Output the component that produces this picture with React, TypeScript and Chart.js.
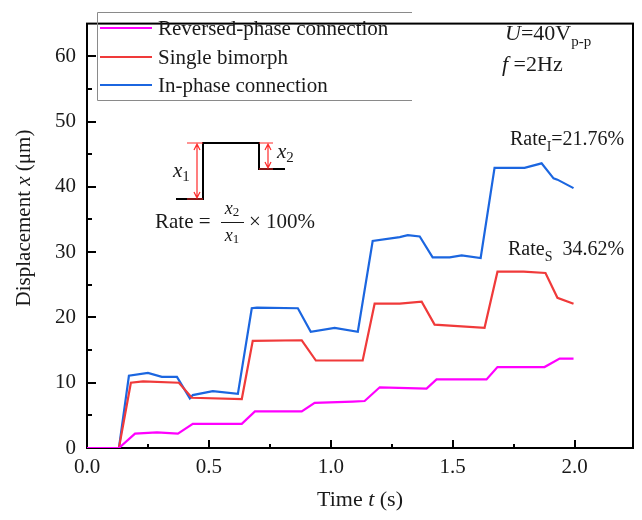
import React, { useEffect, useRef } from "react";
import { Chart, registerables } from "chart.js";

Chart.register(...registerables);

// ---- data ----
const reversedT = [0, 0.131, 0.197, 0.287, 0.373, 0.434, 0.635, 0.689, 0.881, 0.934, 1.09, 1.139, 1.201, 1.393, 1.434, 1.639, 1.684, 1.877, 1.939, 1.996];
const reversedX = [0, 0, 2.2, 2.4, 2.2, 3.7, 3.7, 5.6, 5.6, 6.9, 7.1, 7.2, 9.3, 9.1, 10.5, 10.5, 12.4, 12.4, 13.7, 13.7];

const singleT = [0, 0.131, 0.18, 0.23, 0.377, 0.43, 0.635, 0.68, 0.881, 0.939, 1.131, 1.18, 1.283, 1.373, 1.426, 1.631, 1.684, 1.791, 1.881, 1.93, 1.996];
const singleX = [0, 0, 10.0, 10.2, 10.0, 7.7, 7.5, 16.4, 16.5, 13.4, 13.4, 22.1, 22.1, 22.4, 18.9, 18.4, 27.0, 27.0, 26.8, 23.0, 22.1];

const inPhaseT = [0, 0.131, 0.172, 0.25, 0.307, 0.369, 0.422, 0.434, 0.516, 0.619, 0.676, 0.697, 0.865, 0.918, 1.016, 1.111, 1.172, 1.283, 1.316, 1.365, 1.418, 1.488, 1.537, 1.615, 1.672, 1.795, 1.865, 1.914, 1.93, 1.996];
const inPhaseX = [0, 0, 11.06, 11.5, 10.9, 10.9, 7.6, 8.1, 8.7, 8.3, 21.4, 21.5, 21.4, 17.8, 18.4, 17.8, 31.7, 32.3, 32.6, 32.4, 29.2, 29.2, 29.5, 29.1, 42.9, 42.9, 43.6, 41.3, 41.1, 39.8];

const seriesNames = ["Reversed-phase connection", "Single bimorph", "In-phase connection"];
const seriesColors = ["#ff00ff", "#f03a3a", "#1b66e0"];

const xTickValues = [0, 0.5, 1.0, 1.5, 2.0];
const xMinorValues = [0.25, 0.75, 1.25, 1.75];
const yTickValues = [0, 10, 20, 30, 40, 50, 60];
const yMinorValues = [5, 15, 25, 35, 45, 55];

const SERIF = "'Liberation Serif', 'Times New Roman', serif";
const TXT = "#1a1a1a";

type Run = { t: string; f: string; dy?: number };

function runsWidth(ctx: CanvasRenderingContext2D, runs: Run[]) {
  let w = 0;
  for (const r of runs) {
    ctx.font = r.f;
    w += ctx.measureText(r.t).width;
  }
  return w;
}

function drawRuns(ctx: CanvasRenderingContext2D, x: number, y: number, runs: Run[], align: "left" | "center" = "left") {
  const total = runsWidth(ctx, runs);
  let cx = align === "center" ? x - total / 2 : x;
  ctx.textAlign = "left";
  for (const r of runs) {
    ctx.font = r.f;
    ctx.fillText(r.t, cx, y + (r.dy || 0));
    cx += ctx.measureText(r.t).width;
  }
}

function dblArrow(ctx: CanvasRenderingContext2D, x: number, y1: number, y2: number) {
  ctx.beginPath();
  ctx.moveTo(x, y1 + 1);
  ctx.lineTo(x, y2 - 1);
  ctx.moveTo(x - 3, y1 + 7);
  ctx.lineTo(x, y1 + 1);
  ctx.lineTo(x + 3, y1 + 7);
  ctx.moveTo(x - 3, y2 - 7);
  ctx.lineTo(x, y2 - 1);
  ctx.lineTo(x + 3, y2 - 7);
  ctx.stroke();
}

const framePlugin = {
  id: "frameAndTicks",
  beforeDatasetsDraw(chart: any) {
    const { ctx, chartArea: a, scales } = chart;
    const xs = scales.x;
    const ys = scales.y;
    ctx.save();
    ctx.strokeStyle = "#000";
    ctx.lineWidth = 2;
    ctx.strokeRect(a.left, a.top, a.right - a.left, a.bottom - a.top);
    ctx.beginPath();
    for (const v of xTickValues) {
      const px = Math.round(xs.getPixelForValue(v));
      ctx.moveTo(px, a.bottom);
      ctx.lineTo(px, a.bottom - 8);
    }
    for (const v of xMinorValues) {
      const px = Math.round(xs.getPixelForValue(v));
      ctx.moveTo(px, a.bottom);
      ctx.lineTo(px, a.bottom - 4);
    }
    for (const v of yTickValues) {
      const py = Math.round(ys.getPixelForValue(v));
      ctx.moveTo(a.left, py);
      ctx.lineTo(a.left + 9, py);
    }
    for (const v of yMinorValues) {
      const py = Math.round(ys.getPixelForValue(v));
      ctx.moveTo(a.left, py);
      ctx.lineTo(a.left + 5, py);
    }
    ctx.stroke();
    ctx.restore();
  },
  afterDraw(chart: any) {
    const { ctx, chartArea: a } = chart;
    ctx.save();
    ctx.fillStyle = TXT;
    ctx.textBaseline = "middle";

    // axis titles
    const f22 = `22px ${SERIF}`;
    const f22i = `italic 22px ${SERIF}`;
    drawRuns(ctx, (a.left + a.right) / 2, 500, [
      { t: "Time ", f: f22 },
      { t: "t", f: f22i },
      { t: " (s)", f: f22 },
    ], "center");
    const f21 = `21px ${SERIF}`;
    const f21i = `italic 21px ${SERIF}`;
    ctx.save();
    ctx.translate(24, 218);
    ctx.rotate(-Math.PI / 2);
    drawRuns(ctx, 0, 0, [
      { t: "Displacement ", f: f21 },
      { t: "x", f: f21i },
      { t: " (\u03bcm)", f: f21 },
    ], "center");
    ctx.restore();

    // legend
    ctx.strokeStyle = "#8a8a8a";
    ctx.lineWidth = 1;
    ctx.beginPath();
    ctx.moveTo(412, 12.5);
    ctx.lineTo(97.5, 12.5);
    ctx.lineTo(97.5, 100.5);
    ctx.lineTo(412, 100.5);
    ctx.stroke();
    const rowsY = [28, 57, 85];
    ctx.font = `21px ${SERIF}`;
    for (let i = 0; i < 3; i++) {
      ctx.strokeStyle = seriesColors[i];
      ctx.lineWidth = 2;
      ctx.beginPath();
      ctx.moveTo(100, rowsY[i]);
      ctx.lineTo(152, rowsY[i]);
      ctx.stroke();
      ctx.fillStyle = TXT;
      ctx.textAlign = "left";
      ctx.fillText(seriesNames[i], 158, rowsY[i] + 1);
    }

    // condition labels
    const f22b = `22px ${SERIF}`;
    const f22bi = `italic 22px ${SERIF}`;
    const f15 = `15px ${SERIF}`;
    drawRuns(ctx, 505, 34, [
      { t: "U", f: f22bi },
      { t: "=40V", f: f22b },
      { t: "p-p", f: f15, dy: 8 },
    ]);
    drawRuns(ctx, 502, 65, [
      { t: "f", f: f22bi },
      { t: " =2Hz", f: f22b },
    ]);

    // rate labels
    const f20 = `20px ${SERIF}`;
    const f14 = `14px ${SERIF}`;
    drawRuns(ctx, 510, 140, [
      { t: "Rate", f: f20 },
      { t: "I", f: f14, dy: 7 },
      { t: "=21.76%", f: f20 },
    ]);
    drawRuns(ctx, 508, 250, [
      { t: "Rate", f: f20 },
      { t: "S", f: f14, dy: 7 },
      { t: "  34.62%", f: f20 },
    ]);

    // inset step diagram
    ctx.strokeStyle = "#000";
    ctx.lineWidth = 2;
    ctx.beginPath();
    ctx.moveTo(176, 199);
    ctx.lineTo(203, 199);
    ctx.lineTo(203, 143);
    ctx.lineTo(259, 143);
    ctx.lineTo(259, 169);
    ctx.lineTo(285, 169);
    ctx.stroke();
    ctx.strokeStyle = "#ff2a2a";
    ctx.lineWidth = 1.2;
    ctx.beginPath();
    ctx.moveTo(187, 143);
    ctx.lineTo(203, 143);
    ctx.moveTo(187, 199);
    ctx.lineTo(203, 199);
    ctx.moveTo(259, 143);
    ctx.lineTo(273, 143);
    ctx.moveTo(259, 169);
    ctx.lineTo(273, 169);
    ctx.stroke();
    dblArrow(ctx, 197, 143, 199);
    dblArrow(ctx, 268, 143, 169);

    ctx.fillStyle = TXT;
    const fm = `italic 21px ${SERIF}`;
    const fs = `15px ${SERIF}`;
    drawRuns(ctx, 173, 171, [
      { t: "x", f: fm },
      { t: "1", f: fs, dy: 6 },
    ]);
    drawRuns(ctx, 277, 152, [
      { t: "x", f: fm },
      { t: "2", f: fs, dy: 6 },
    ]);

    const fr = `21px ${SERIF}`;
    drawRuns(ctx, 155, 222, [{ t: "Rate =", f: fr }]);
    drawRuns(ctx, 232, 209, [
      { t: "x", f: `italic 18px ${SERIF}` },
      { t: "2", f: `13px ${SERIF}`, dy: 4 },
    ], "center");
    drawRuns(ctx, 232, 236, [
      { t: "x", f: `italic 18px ${SERIF}` },
      { t: "1", f: `13px ${SERIF}`, dy: 4 },
    ], "center");
    ctx.strokeStyle = TXT;
    ctx.lineWidth = 1;
    ctx.beginPath();
    ctx.moveTo(221, 222.5);
    ctx.lineTo(244, 222.5);
    ctx.stroke();
    drawRuns(ctx, 249, 222, [{ t: "\u00d7 100%", f: fr }]);

    ctx.restore();
  },
};

function toPoints(ts: number[], vs: number[]) {
  return ts.map((t, i) => ({ x: t, y: vs[i] }));
}

export default function App() {
  const ref = useRef<HTMLCanvasElement | null>(null);
  useEffect(() => {
    if (!ref.current) return;
    const allT = [reversedT, singleT, inPhaseT];
    const allX = [reversedX, singleX, inPhaseX];
    const chart = new Chart(ref.current, {
      type: "line",
      data: {
        datasets: [0, 1, 2].map((i) => ({
          label: seriesNames[i],
          data: toPoints(allT[i], allX[i]),
          borderColor: seriesColors[i],
          backgroundColor: seriesColors[i],
          borderWidth: 2.2,
          pointRadius: 0,
          tension: 0,
          fill: false,
        })),
      },
      options: {
        animation: false,
        responsive: true,
        maintainAspectRatio: false,
        layout: { padding: { top: 7, right: 9, left: 0, bottom: 0 } },
        plugins: {
          legend: { display: false },
          tooltip: { enabled: false },
        },
        scales: {
          x: {
            type: "linear",
            min: 0,
            max: 2.24,
            grid: { display: false, drawTicks: false },
            border: { display: false },
            afterBuildTicks: (s: any) => {
              s.ticks = xTickValues.map((v) => ({ value: v }));
            },
            afterFit: (s: any) => {
              s.height = 72;
            },
            ticks: {
              padding: 7,
              color: TXT,
              font: { family: SERIF, size: 21 },
              callback: (v: any) => Number(v).toFixed(1),
            },
          },
          y: {
            type: "linear",
            min: 0,
            max: 65,
            grid: { display: false, drawTicks: false },
            border: { display: false },
            afterBuildTicks: (s: any) => {
              s.ticks = yTickValues.map((v) => ({ value: v }));
            },
            afterFit: (s: any) => {
              s.width = 87;
            },
            ticks: {
              padding: 11,
              color: TXT,
              font: { family: SERIF, size: 21 },
              callback: (v: any) => String(v),
            },
          },
        },
      },
      plugins: [framePlugin],
    });
    return () => chart.destroy();
  }, []);
  return (
    <div style={{ position: "fixed", left: 0, top: 0, width: 642, height: 520, background: "#fff" }}>
      <canvas ref={ref} />
    </div>
  );
}
